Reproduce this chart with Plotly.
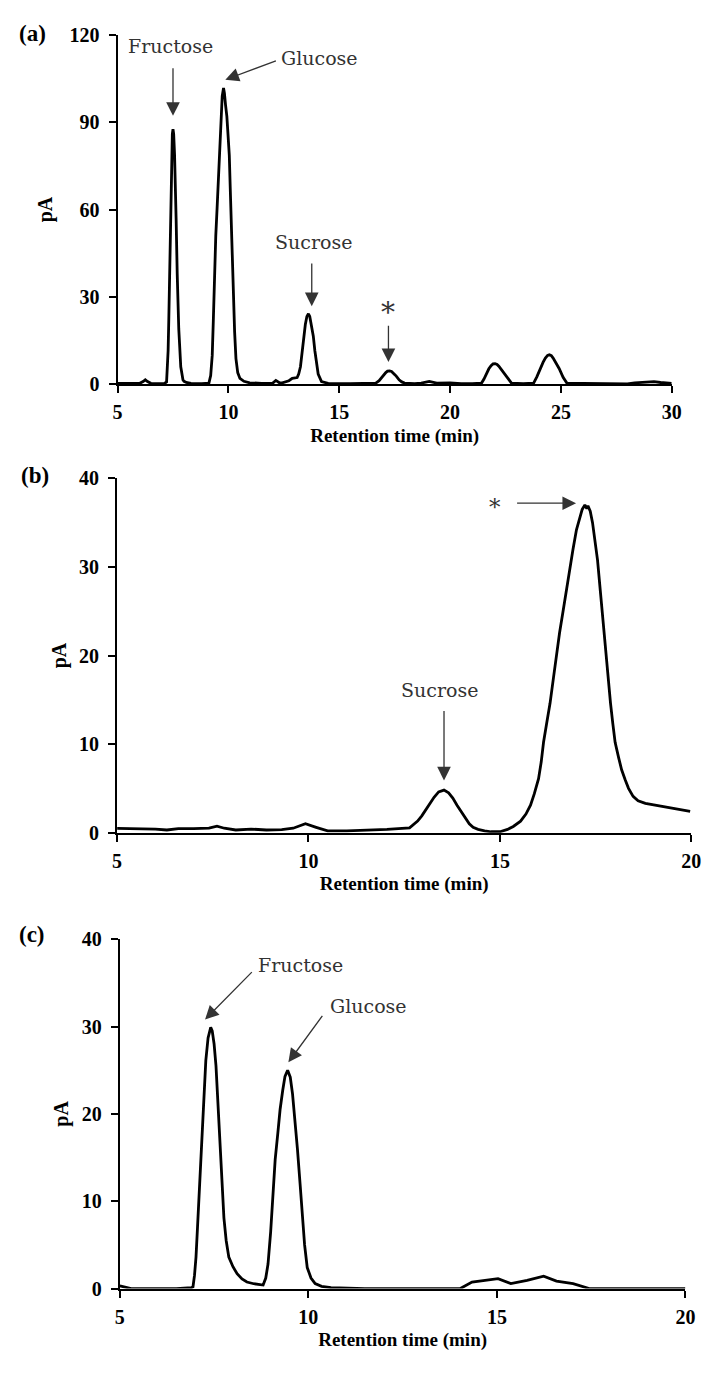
import plotly.graph_objects as go

# ---------------- data ----------------
# Panel (a)
time_a = [5.0, 5.5, 6.0, 6.15, 6.25, 6.35, 6.5, 6.8, 7.1, 7.21, 7.24, 7.28, 7.31, 7.35, 7.38,
          7.40, 7.43, 7.47, 7.50, 7.53, 7.57, 7.61, 7.64, 7.69, 7.72, 7.76, 7.80, 7.85, 7.95,
          8.0, 8.1, 8.31, 8.8, 9.12, 9.2, 9.27, 9.32, 9.37, 9.43, 9.49, 9.54, 9.59, 9.63, 9.67,
          9.72, 9.78, 9.82, 9.87, 9.93, 9.98, 10.04, 10.08, 10.12, 10.17, 10.23, 10.28, 10.34,
          10.42, 10.52, 10.7, 10.96, 11.5, 12.0, 12.14, 12.3, 12.43, 12.73, 12.88, 13.1, 13.17,
          13.25, 13.32, 13.4, 13.47, 13.54, 13.61, 13.67, 13.72, 13.78, 13.83, 13.9, 13.98,
          14.05, 14.2, 14.5, 15.5, 16.2, 16.65, 16.8, 16.93, 17.02, 17.1, 17.18, 17.27, 17.36,
          17.45, 17.52, 17.59, 17.7, 17.82, 17.95, 18.4, 18.7, 19.06, 19.4, 20.0, 20.5, 21.0,
          21.42, 21.53, 21.64, 21.75, 21.85, 21.94, 22.03, 22.12, 22.2, 22.32, 22.45, 22.6,
          22.77, 23.3, 23.77, 23.92, 24.07, 24.2, 24.3, 24.4, 24.48, 24.57, 24.65, 24.78,
          24.92, 25.1, 25.27, 26.0, 27.0, 28.0, 28.33, 28.8, 29.2, 29.5, 29.8, 30.0]
signal_a = [0.3, 0.2, 0.3, 0.9, 1.5, 0.9, 0.3, 0.2, 0.2, 0.8, 4.0, 11.6, 22.0, 38.0, 55.0,
            70.0, 79.0, 86.0, 87.6, 86.0, 79.0, 70.0, 57.0, 38.0, 27.0, 19.0, 13.3, 6.0, 1.5,
            1.0, 0.6, 0.3, 0.2, 0.4, 3.0, 9.9, 22.0, 40.0, 51.0, 60.6, 70.0, 77.5, 85.0, 91.0,
            99.0, 101.8, 100.0, 96.0, 92.0, 86.0, 78.6, 68.0, 57.2, 43.0, 29.0, 18.0, 8.8,
            4.0, 2.0, 1.0, 0.5, 0.3, 0.4, 1.3, 0.5, 0.5, 1.2, 2.0, 2.3, 3.5,
            6.0, 11.0, 16.0, 20.5, 23.3, 24.2, 23.3, 21.5, 19.0, 16.5, 11.5, 6.5,
            3.5, 0.9, 0.3, 0.2, 0.2, 0.4, 1.2, 2.6, 3.4, 4.0, 4.5, 4.6, 4.4,
            3.9, 3.2, 2.6, 1.5, 0.8, 0.4, 0.2, 0.4, 1.0, 0.4, 0.5, 0.2, 0.2,
            0.4, 1.8, 3.7, 5.3, 6.4, 7.0, 7.1, 6.8, 6.2, 5.0, 3.7, 1.8,
            0.4, 0.2, 0.4, 2.6, 5.4, 7.6, 9.0, 9.9, 10.1, 9.8, 9.0, 7.4,
            5.4, 2.4, 0.4, 0.3, 0.3, 0.1, 0.5, 0.6, 0.9, 0.6, 0.4, 0.3]

# Panel (b)
time_b = [5.0, 5.5, 6.0, 6.3, 6.6, 7.0, 7.4, 7.61, 7.8, 8.1, 8.5, 8.9, 9.3, 9.6, 9.92, 10.2,
          10.5, 11.0, 11.5, 12.05, 12.64, 12.75, 12.85, 12.96, 13.07, 13.17, 13.28, 13.4, 13.54,
          13.66, 13.77, 13.88, 14.0, 14.1, 14.2, 14.3, 14.43, 14.6, 14.77, 15.0, 15.2, 15.35,
          15.54, 15.68, 15.80, 15.9, 16.01, 16.08, 16.14, 16.22, 16.31, 16.4, 16.48, 16.56,
          16.65, 16.73, 16.82, 16.91, 17.0, 17.08, 17.15, 17.22, 17.27, 17.3, 17.36, 17.42,
          17.48, 17.55, 17.63, 17.7, 17.76, 17.83, 17.89, 17.95, 18.01, 18.1, 18.18, 18.27,
          18.36, 18.48, 18.61, 18.8, 19.04, 19.25, 19.46, 19.7, 19.97]
signal_b = [0.48, 0.45, 0.4, 0.3, 0.45, 0.45, 0.5, 0.74, 0.5, 0.3, 0.4, 0.3, 0.35, 0.5, 1.0, 0.6,
            0.2, 0.2, 0.25, 0.37, 0.55, 0.9, 1.3, 1.9, 2.6, 3.3, 4.0, 4.6, 4.8,
            4.5, 3.9, 3.1, 2.3, 1.6, 1.0, 0.6, 0.37, 0.2, 0.1, 0.1, 0.37, 0.7,
            1.3, 2.1, 3.1, 4.4, 6.1, 8.0, 10.2, 12.3, 14.6, 17.5, 20.2, 22.6,
            25.0, 27.3, 29.4, 32.0, 34.2, 35.6, 36.5, 37.0, 36.6, 36.9, 36.3, 35.0,
            33.3, 30.8, 27.0, 23.5, 20.2, 17.2, 14.6, 12.3, 10.2, 8.5, 7.1, 6.0,
            5.0, 4.1, 3.6, 3.3, 3.1, 2.95, 2.8, 2.6, 2.4]

# Panel (c)
time_c = [5.0, 5.1, 5.3, 6.0, 6.5, 6.9, 6.94, 6.98, 7.02, 7.06, 7.11, 7.15, 7.20, 7.24, 7.28,
          7.34, 7.38, 7.41, 7.45, 7.50, 7.55, 7.59, 7.63, 7.67, 7.72, 7.76, 7.82, 7.89, 8.0,
          8.11, 8.24, 8.37, 8.55, 8.71, 8.80, 8.87, 8.93, 9.0, 9.06, 9.12, 9.19, 9.25, 9.32,
          9.38, 9.45, 9.52, 9.58, 9.65, 9.71, 9.78, 9.84, 9.9, 9.97, 10.07, 10.18, 10.35, 10.6,
          11.5, 12.5, 13.5, 14.03, 14.34, 14.68, 15.03, 15.37, 15.80, 16.24, 16.58, 17.02,
          17.45, 18.0, 19.0, 20.0]
signal_c = [0.3, 0.2, 0.0, 0.0, 0.0, 0.1, 0.2, 1.5, 3.6, 7.0, 11.1, 14.8, 18.6, 22.5, 26.1,
            28.7, 29.6, 29.9, 29.5, 28.0, 25.5, 22.3, 18.5, 14.8, 11.2, 8.1, 5.5, 3.6, 2.5,
            1.7, 1.1, 0.75, 0.55, 0.5, 0.4, 1.2, 2.8, 6.5, 11.1, 14.8, 17.8, 20.5, 22.7,
            24.3, 25.0, 24.2, 22.3, 19.3, 16.0, 12.0, 8.1, 5.0, 2.4, 1.2, 0.56, 0.25, 0.1,
            0.0, 0.0, 0.0, 0.0, 0.75, 0.94, 1.13, 0.56, 0.94, 1.42, 0.86, 0.56,
            0.0, 0.0, 0.0, 0.0]

xticks_a = [5, 10, 15, 20, 25, 30]
yticks_a = [0, 30, 60, 90, 120]
xticks_bc = [5, 10, 15, 20]
yticks_bc = [0, 10, 20, 30, 40]

# ---------------- figure ----------------
W, H = 715, 1376
fig = go.Figure()
line = dict(color="black", width=2.8)
fig.add_trace(go.Scatter(x=time_a, y=signal_a, mode="lines", line=line, xaxis="x", yaxis="y", showlegend=False))
fig.add_trace(go.Scatter(x=time_b, y=signal_b, mode="lines", line=line, xaxis="x2", yaxis="y2", showlegend=False))
fig.add_trace(go.Scatter(x=time_c, y=signal_c, mode="lines", line=line, xaxis="x3", yaxis="y3", showlegend=False))

tickfont = dict(family="Liberation Serif", size=20, color="black", weight="bold")
titlefont = dict(family="Liberation Serif", size=19, color="black", weight="bold")
ytitlefont = dict(family="Liberation Serif", size=20, color="black", weight="bold")


def xax(domain, rng, ticks, anchor):
    return dict(domain=domain, range=rng, tickvals=ticks, ticks="outside", ticklen=7, tickwidth=1.5,
                tickcolor="black", showline=True, linecolor="black", linewidth=2, showgrid=False,
                zeroline=False, tickfont=tickfont, anchor=anchor, ticklabelstandoff=2,
                title=dict(text="Retention time (min)", font=titlefont, standoff=6))


def yax(domain, rng, ticks, anchor, standoff):
    return dict(domain=domain, range=rng, tickvals=ticks, ticks="outside", ticklen=7, tickwidth=1.5,
                tickcolor="black", showline=True, linecolor="black", linewidth=2, showgrid=False,
                zeroline=False, tickfont=tickfont, anchor=anchor, ticklabelstandoff=5,
                title=dict(text="pA", font=ytitlefont, standoff=standoff))


fig.update_layout(
    width=W, height=H, margin=dict(l=0, r=0, t=0, b=0),
    paper_bgcolor="white", plot_bgcolor="white",
    xaxis=xax([115 / W, 681 / W], [5, 30], xticks_a, "y"),
    yaxis=yax([1 - 379.3 / H, 1 - 24.3 / H], [0, 120], yticks_a, "x", 12),
    xaxis2=xax([114.5 / W, 701 / W], [5, 20], xticks_bc, "y2"),
    yaxis2=yax([1 - 835 / H, 1 - 475 / H], [0, 40], yticks_bc, "x2", 7),
    xaxis3=xax([117.3 / W, 695 / W], [5, 20], xticks_bc, "y3"),
    yaxis3=yax([1 - 1298.3 / H, 1 - 943.3 / H], [0, 40], yticks_bc, "x3", 8),
)

afont = dict(family="DejaVu Serif", size=19, color="#333333")
acol = "#333333"


def label(x, y, text, xr, yr, size=19):
    f = dict(afont)
    f["size"] = size
    fig.add_annotation(x=x, y=y, xref=xr, yref=yr, text=text, showarrow=False, font=f,
                       xanchor="center", yanchor="middle")


def arrow(x0, y0, x1, y1, xr, yr):
    fig.add_annotation(x=x1, y=y1, ax=x0, ay=y0, xref=xr, yref=yr, axref=xr, ayref=yr, text="",
                       showarrow=True, arrowhead=2, arrowsize=2.1, arrowwidth=1.3, arrowcolor=acol)


# panel (a)
label(7.39, 116.1, "Fructose", "x", "y")
arrow(7.50, 109.1, 7.50, 92.2, "x", "y")
label(14.1, 112.0, "Glucose", "x", "y")
arrow(12.21, 111.3, 9.86, 104.6, "x", "y")
label(13.82, 48.7, "Sucrose", "x", "y")
arrow(13.76, 42.0, 13.76, 26.8, "x", "y")
label(17.22, 24.6, "*", "x", "y", size=28)
arrow(17.22, 20.6, 17.22, 7.6, "x", "y")

# panel (b)
label(14.86, 36.8, "*", "x2", "y2", size=23)
arrow(15.41, 37.2, 16.99, 37.2, "x2", "y2")
label(13.41, 16.1, "Sucrose", "x2", "y2")
arrow(13.54, 13.9, 13.54, 5.9, "x2", "y2")

# panel (c)
label(9.79, 37.0, "Fructose", "x3", "y3")
arrow(8.54, 36.4, 7.26, 30.8, "x3", "y3")
label(11.59, 32.3, "Glucose", "x3", "y3")
arrow(10.40, 31.4, 9.47, 25.9, "x3", "y3")

# panel letters
pfont = dict(family="Liberation Serif", size=23, color="black", weight="bold")
for txt, px, py in [("(a)", 28, 23), ("(b)", 31, 472), ("(c)", 28, 939)]:
    fig.add_annotation(x=px / W, y=1 - py / H, xref="paper", yref="paper", text=txt, showarrow=False,
                       font=pfont, xanchor="center", yanchor="middle")

fig.write_html("out.html", config={"displayModeBar": False},
               post_script="document.body.style.margin='0';document.body.style.overflow='hidden';")
